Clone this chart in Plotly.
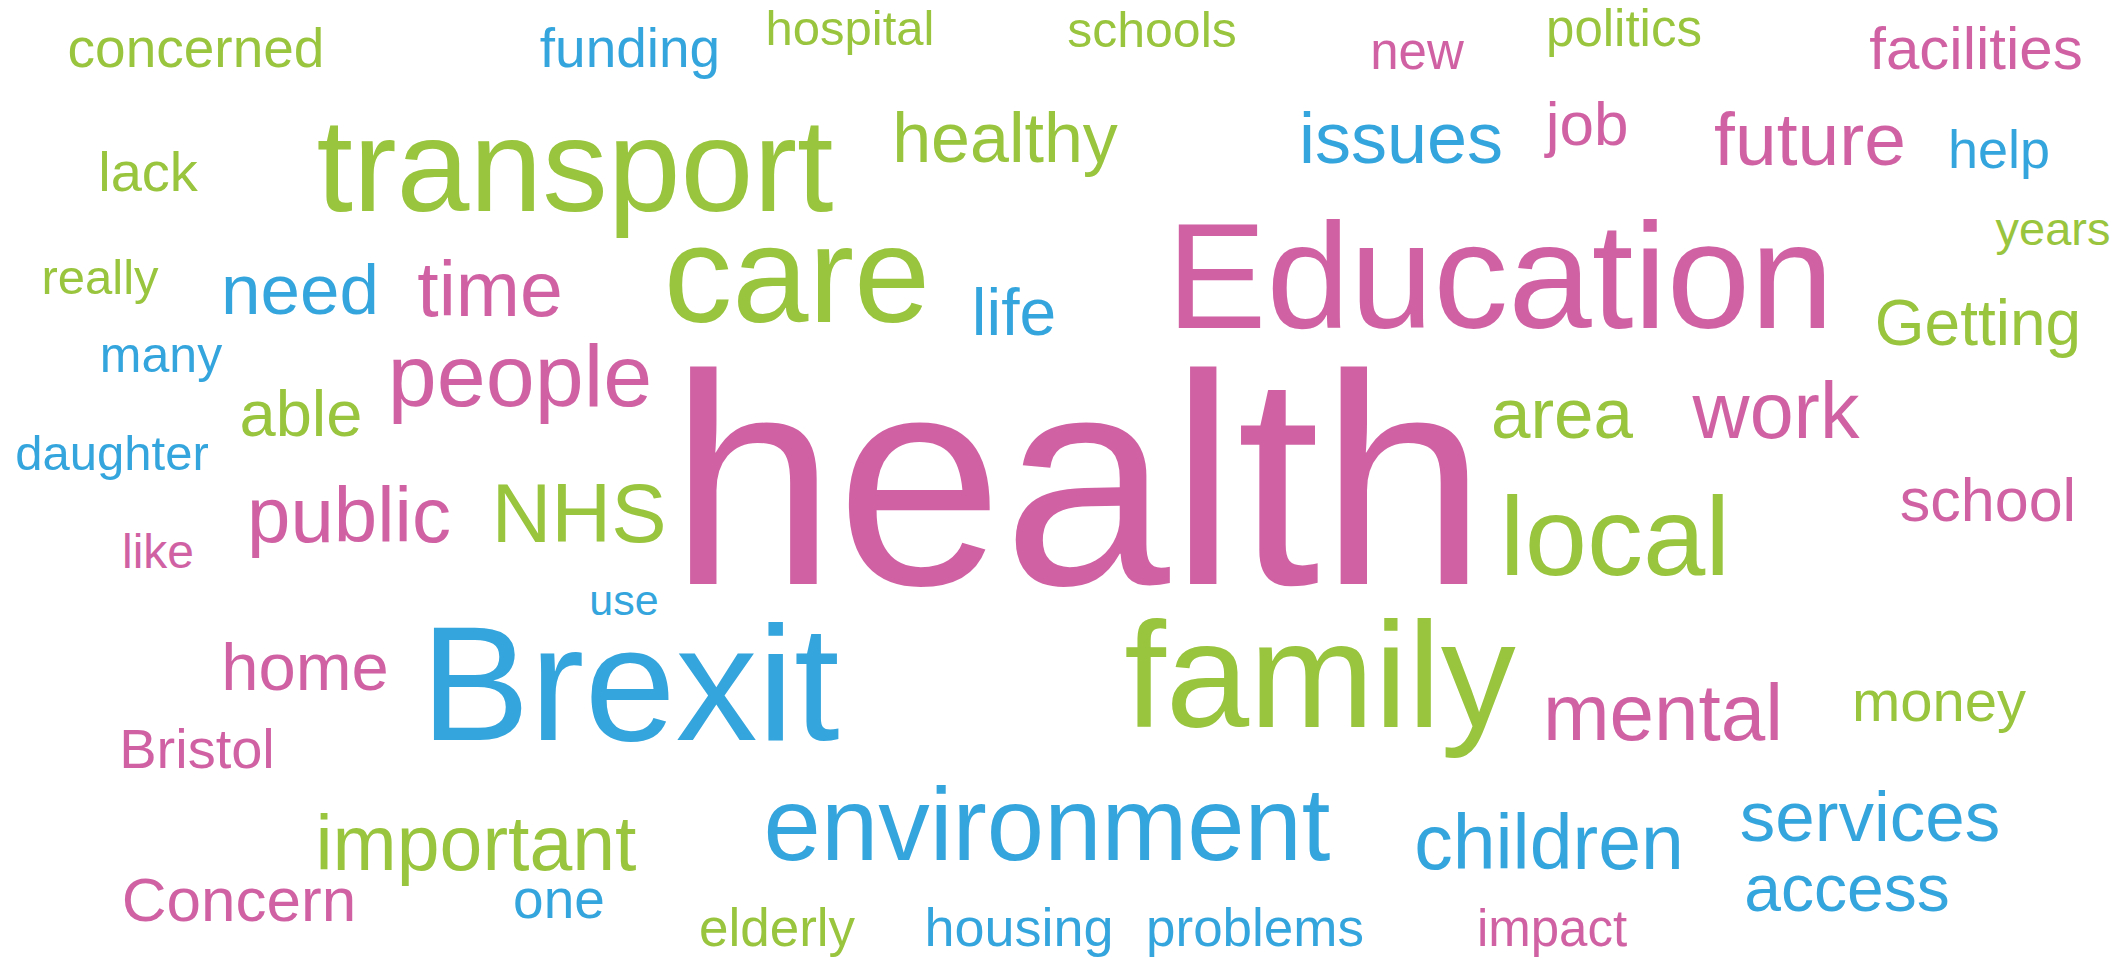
import plotly.graph_objects as go

# Word cloud data: word, display size (px), horizontal centre, baseline, colour group
words = ["concerned", "funding", "hospital", "schools", "new", "politics", "facilities",
         "lack", "transport", "healthy", "issues", "job", "future", "help", "years",
         "really", "need", "time", "care", "life", "Education", "Getting",
         "many", "people", "able", "daughter", "area", "work",
         "health", "public", "NHS", "like", "local", "school", "use",
         "home", "Brexit", "family", "mental", "money", "Bristol",
         "important", "environment", "children", "services", "access",
         "Concern", "one", "elderly", "housing", "problems", "impact"]

sizes = [55, 55, 49, 50, 51, 51, 60,
         56, 131, 70, 72, 62, 75, 54, 47,
         49, 71, 77, 137, 66, 150, 64,
         50, 88, 65, 49, 71, 79,
         300, 78, 83, 48, 112, 61, 43,
         67, 164, 150, 80, 58, 56,
         77, 103, 77, 71, 66,
         62, 55, 53, 54, 53, 51]

x_center = [196, 630, 850, 1152, 1417, 1624, 1976,
            148, 575, 1005, 1401, 1587, 1810, 1999, 2053,
            100, 300, 490, 797, 1014, 1500, 1978,
            161, 520, 301, 112, 1562, 1776,
            1078, 349, 579, 158, 1615, 1988, 624,
            305, 630, 1320, 1663, 1939, 197,
            476, 1047, 1549, 1870, 1847,
            239, 559, 777, 1019, 1255, 1552]

baseline = [69, 69, 46, 48, 71, 48, 71,
            193, 215, 164, 165, 147, 167, 170, 246,
            295, 316, 318, 326, 337, 332, 347,
            373, 409, 438, 471, 440, 440,
            593, 544, 544, 569, 578, 523, 616,
            692, 745, 731, 742, 723, 770,
            872, 863, 871, 843, 913,
            923, 920, 948, 948, 948, 948]

group = ["g", "b", "g", "g", "p", "g", "p",
         "g", "g", "g", "b", "p", "p", "b", "g",
         "g", "b", "p", "g", "b", "p", "g",
         "b", "p", "g", "b", "g", "p",
         "p", "p", "g", "p", "g", "p", "b",
         "p", "b", "g", "p", "g", "p",
         "g", "b", "b", "b", "b",
         "p", "b", "g", "b", "b", "p"]

palette = {"g": "#99C43D", "p": "#D062A4", "b": "#35A5DD"}

W, H = 2126, 961
PAGE_MARGIN = 8       # default body margin of the html page
MID_SHIFT = 0.28      # baseline offset below the anchor for 'middle' text (em)

ys = [b - MID_SHIFT * s for b, s in zip(baseline, sizes)]
cols = [palette[g] for g in group]

fig = go.Figure(go.Scatter(
    x=x_center, y=ys, text=words, mode="text",
    textposition="middle center",
    cliponaxis=False,
    textfont=dict(family="Liberation Sans, Arial, sans-serif", size=sizes, color=cols),
    hoverinfo="text",
))

fig.update_layout(
    width=W - PAGE_MARGIN, height=H - PAGE_MARGIN,
    margin=dict(l=0, r=0, t=0, b=0),
    paper_bgcolor="white", plot_bgcolor="white",
    showlegend=False,
    xaxis=dict(range=[PAGE_MARGIN, W], visible=False, fixedrange=True),
    yaxis=dict(range=[H, PAGE_MARGIN], visible=False, fixedrange=True),
)

fig.write_html("out.html")
